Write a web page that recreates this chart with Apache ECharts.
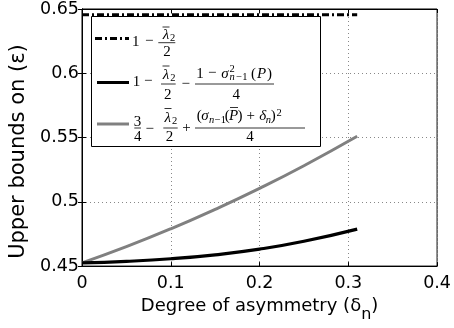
<!DOCTYPE html>
<html><head><meta charset="utf-8">
<script src="https://cdn.jsdelivr.net/npm/echarts@6/dist/echarts.min.js"></script>
<style>html,body{margin:0;padding:0;background:#fff}#c{width:454px;height:328px}</style>
</head><body><div id="c"></div>
<script>
// ---- data ----
const xValues = [0, 0.05, 0.1, 0.15, 0.2, 0.25, 0.31];
const grayValues = [0.4525, 0.4651, 0.479, 0.4942, 0.5105, 0.5281, 0.551];
const blackValues = [0.4525, 0.4537, 0.4557, 0.4588, 0.4632, 0.4693, 0.4788];
const dashX = [0, 0.31];
const dashValues = [0.6455, 0.6455];
const xTicks = [0, 0.1, 0.2, 0.3, 0.4];
const yTicks = [0.45, 0.5, 0.55, 0.6, 0.65];
const xTitle = 'Degree of asymmetry (δ';
const xTitleSub = 'n';
const yTitle = 'Upper bounds on (ε)';

// ---- helpers ----
const zip = (xs, ys) => xs.map((x, i) => [x, ys[i]]);
const SANS = '"DejaVu Sans"';
const SERIF = '"Liberation Serif"';
const cv = document.createElement('canvas').getContext('2d');
function baseOff(size, italic) {
  cv.font = (italic ? 'italic ' : '') + size + 'px ' + SERIF;
  cv.textBaseline = 'middle';
  return cv.measureText('1').actualBoundingBoxDescent;
}
// legend math atoms: [text, x, baselineY, size, italic, align]
const atoms = [
  // row 1
  ['1',135.8,46,15,0],['−',149.2,44.5,15,0],['λ',166,38.5,15,1],['2',172.5,40.5,10.5,0],['2',167,56,15,0],
  // row 2
  ['1',136.6,86,15,0],['−',148.3,84.8,15,0],['λ',166,79,15,1],['2',172.8,81,10.5,0],['2',167.8,99.3,15,0],['−',185.8,87.8,15,0],
  ['1',200,78,15,0],['−',212.3,76.8,15,0],['σ',225,78,15,1],['2',232.2,72,10.5,0],['n',229.5,80.3,10.5,1,'left'],['−1',236.3,80.3,10.5,0,'left'],
  ['(',253.6,78,15,0],['P',261.5,78,15,1],[')',269.5,78,15,0],['4',236.3,99.3,15,0],
  // row 3
  ['3',137.5,125.7,15,0],['4',137.8,140.7,15,0],['−',149.8,132.8,15,0],['λ',167.8,122.3,15,1],['2',174.5,124.3,10.5,0],['2',169.5,140.7,15,0],['+',186.6,131.8,15,0],
  ['(',199.3,119.5,15,0],['σ',205,119.5,15,1],['n',209,123.3,10.5,1,'left'],['−1',214.8,123.3,10.5,0,'left'],['(',227.2,119.5,15,0],['P',233.7,119.5,15,1],[')',240,119.5,15,0],
  ['+',250.8,119.5,15,0],['δ',262.8,119.5,15,1],['n',268.3,123,10.5,1],[')',273.3,119.5,15,0],['2',279.2,115.7,10.5,0],['4',250,140.7,15,0]
];
// horizontal rules: [x1, x2, y, width]  (fraction bars and macrons)
const rules = [
  [158.3,175.3,42.7,0.8],[162.5,169.5,27,0.8],
  [161,175.7,84,0.8],[195,274,84,0.8],[162.5,169.5,66,0.8],
  [134.3,141,128,0.8],[163.3,177.7,128,0.8],[195,305,128,0.8],[164.5,171.5,108.5,0.8],[230,238,107.5,0.8]
];
const graphics = [];
graphics.push({type:'rect', z:100, shape:{x:91.5,y:16.5,width:229,height:130}, style:{fill:'#fff',stroke:'#000',lineWidth:1}});
atoms.forEach(a => {
  const [t,x,b,s,it,al] = a;
  graphics.push({type:'text', z:101, x:x, y:b - baseOff(s,it), style:{text:t, fontSize:s, fontFamily:SERIF, fontStyle: it?'italic':'normal', fill:'#000', align:al||'center', verticalAlign:'middle'}});
});
rules.forEach(r => graphics.push({type:'line', z:101, shape:{x1:r[0],y1:r[2],x2:r[1],y2:r[2]}, style:{stroke:'#000',lineWidth:r[3]}}));
// legend samples
graphics.push({type:'line', z:101, shape:{x1:95,y1:38.5,x2:129,y2:38.5}, style:{stroke:'#000',lineWidth:3,lineDash:[7,3,2,3]}});
graphics.push({type:'line', z:101, shape:{x1:97,y1:82.5,x2:129,y2:82.5}, style:{stroke:'#000',lineWidth:3}});
graphics.push({type:'line', z:101, shape:{x1:97,y1:124,x2:129,y2:124}, style:{stroke:'#808080',lineWidth:3}});

const chart = echarts.init(document.getElementById('c'), null, {renderer:'canvas'});
const tickStyle = {inside:true, length:4, lineStyle:{color:'#000', width:1}};
const split = {show:true, lineStyle:{color:'#888', width:1, type:[1,3]}};
const xMin = xTicks[0], xMax = xTicks[xTicks.length-1], xInt = xTicks[1]-xTicks[0];
const yMin = yTicks[0], yMax = yTicks[yTicks.length-1], yInt = +(yTicks[1]-yTicks[0]).toFixed(4);
chart.setOption({
  animation:false,
  backgroundColor:'#fff',
  grid:{left:82, right:16, top:9, bottom:58, show:true, borderColor:'#000', borderWidth:1, backgroundColor:'#fff'},
  xAxis:[
    {type:'value', min:xMin, max:xMax, interval:xInt, position:'bottom',
     axisLine:{show:true, lineStyle:{color:'#000'}}, axisTick:tickStyle, splitLine:split,
     axisLabel:{color:'#000', fontFamily:SANS, fontSize:17.5, margin:8, formatter:v=>String(+v.toFixed(2))},
     name:'{a|'+xTitle+'}{s|'+xTitleSub+'}{a|)}', nameLocation:'middle', nameGap:24,
     nameTextStyle:{rich:{a:{fontFamily:SANS, fontSize:18, color:'#000', lineHeight:22, verticalAlign:'top'},
                          s:{fontFamily:SANS, fontSize:16, color:'#000', lineHeight:20, padding:[10,0,0,0], verticalAlign:'top'}}}},
    {type:'value', min:xMin, max:xMax, interval:xInt, position:'top',
     axisLine:{show:true, lineStyle:{color:'#000'}}, axisTick:tickStyle, splitLine:{show:false}, axisLabel:{show:false}}
  ],
  yAxis:[
    {type:'value', min:yMin, max:yMax, interval:yInt, position:'left',
     axisLine:{show:true, lineStyle:{color:'#000'}}, axisTick:tickStyle, splitLine:split,
     axisLabel:{color:'#000', fontFamily:SANS, fontSize:17.5, margin:3, formatter:v=>String(+v.toFixed(2))},
     name:yTitle, nameLocation:'middle', nameGap:51,
     nameTextStyle:{fontFamily:SANS, fontSize:21, color:'#000', padding:[0,28,0,0]}},
    {type:'value', min:yMin, max:yMax, interval:yInt, position:'right',
     axisLine:{show:true, lineStyle:{color:'#000'}}, axisTick:tickStyle, splitLine:{show:false}, axisLabel:{show:false}}
  ],
  series:[
    {type:'line', xAxisIndex:0, yAxisIndex:0, data:zip(dashX, dashValues), symbol:'none',
     lineStyle:{color:'#000', width:3, type:[7,3,2,3]}},
    {type:'line', xAxisIndex:0, yAxisIndex:0, data:zip(xValues, grayValues), symbol:'none', smooth:true,
     lineStyle:{color:'#808080', width:3}},
    {type:'line', xAxisIndex:0, yAxisIndex:0, data:zip(xValues, blackValues), symbol:'none', smooth:true,
     lineStyle:{color:'#000', width:3.2}}
  ],
  graphic: graphics
});
</script>
</body></html>
